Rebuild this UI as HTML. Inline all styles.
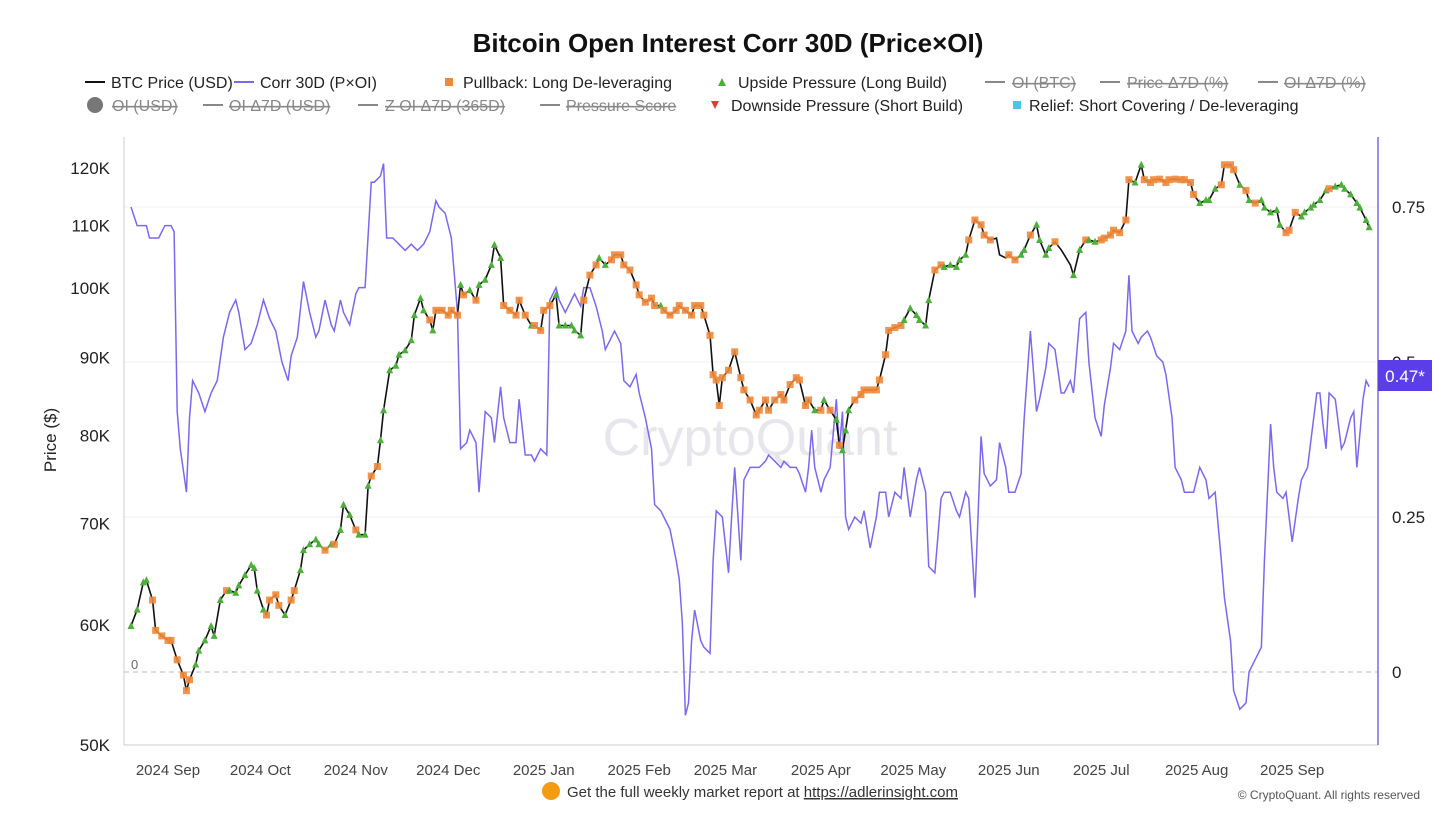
<!DOCTYPE html>
<html><head><meta charset="utf-8"><style>
html,body{margin:0;padding:0;background:#fff;}
svg{display:block;font-family:"Liberation Sans",Arial,sans-serif;}
</style></head><body>
<svg id="chart" width="1456" height="819" viewBox="0 0 1456 819" xmlns="http://www.w3.org/2000/svg">
<text x="728" y="52" text-anchor="middle" font-size="26" font-weight="bold" fill="#111">Bitcoin Open Interest Corr 30D (Price×OI)</text>
<g font-size="16" fill="#222">
 <g><line x1="85" y1="82" x2="105" y2="82" stroke="#111" stroke-width="2"/><text x="111" y="88">BTC Price (USD)</text></g>
 <g><line x1="234" y1="82" x2="254" y2="82" stroke="#7b68ee" stroke-width="2"/><text x="260" y="88">Corr 30D (P×OI)</text></g>
 <g><rect x="445" y="78" width="8" height="8" fill="#f0883a"/><text x="463" y="88">Pullback: Long De-leveraging</text></g>
 <g><polygon points="722,78 726,86 718,86" fill="#4caf3a"/><text x="738" y="88">Upside Pressure (Long Build)</text></g>
 <g fill="#888"><line x1="985" y1="82" x2="1005" y2="82" stroke="#888" stroke-width="2"/><text x="1012" y="88" text-decoration="line-through">OI (BTC)</text></g>
 <g fill="#888"><line x1="1100" y1="82" x2="1120" y2="82" stroke="#888" stroke-width="2"/><text x="1127" y="88" text-decoration="line-through">Price Δ7D (%)</text></g>
 <g fill="#888"><line x1="1258" y1="82" x2="1278" y2="82" stroke="#888" stroke-width="2"/><text x="1284" y="88" text-decoration="line-through">OI Δ7D (%)</text></g>
 <g fill="#888"><circle cx="95" cy="105" r="8" fill="#777"/><text x="112" y="111" text-decoration="line-through">OI (USD)</text></g>
 <g fill="#888"><line x1="203" y1="105" x2="223" y2="105" stroke="#888" stroke-width="2"/><text x="229" y="111" text-decoration="line-through">OI Δ7D (USD)</text></g>
 <g fill="#888"><line x1="358" y1="105" x2="378" y2="105" stroke="#888" stroke-width="2"/><text x="385" y="111" text-decoration="line-through">Z OI Δ7D (365D)</text></g>
 <g fill="#888"><line x1="540" y1="105" x2="560" y2="105" stroke="#888" stroke-width="2"/><text x="566" y="111" text-decoration="line-through">Pressure Score</text></g>
 <g><polygon points="711,101 719,101 715,109" fill="#e53935"/><text x="731" y="111">Downside Pressure (Short Build)</text></g>
 <g><rect x="1013" y="101" width="8" height="8" fill="#4fc3e8"/><text x="1029" y="111">Relief: Short Covering / De-leveraging</text></g>
</g>
<text x="750" y="455" text-anchor="middle" font-size="52" fill="#e6e6ec">CryptoQuant</text>
<g id="grid"></g>
<line x1="124" y1="137" x2="124" y2="745" stroke="#ccc"/>
<line x1="124" y1="745" x2="1378" y2="745" stroke="#ccc"/>
<line x1="1378" y1="137" x2="1378" y2="745" stroke="#7b68ee" stroke-width="1.5"/>
<text x="131" y="669" font-size="13" fill="#666">0</text>
<text transform="translate(56,440) rotate(-90)" text-anchor="middle" font-size="17" fill="#222">Price ($)</text>
<g id="ticks"></g>
<g id="series"></g>
<g><rect x="1378" y="360" width="54" height="31" fill="#5b3ee8"/><text x="1405" y="382" text-anchor="middle" font-size="17" fill="#fff">0.47*</text></g>
<g>
 <circle cx="551" cy="791" r="9" fill="#f39c12"/><text x="567" y="797" font-size="15" fill="#333">Get the full weekly market report at <tspan text-decoration="underline">https://adlerinsight.com</tspan></text>
 <text x="1420" y="799" text-anchor="end" font-size="12" fill="#555">© CryptoQuant. All rights reserved</text>
</g>
</svg>
<script>
const monthLabels=["2024 Sep","2024 Oct","2024 Nov","2024 Dec","2025 Jan","2025 Feb","2025 Mar","2025 Apr","2025 May","2025 Jun","2025 Jul","2025 Aug","2025 Sep"];
const monthDays=[12,42,73,103,134,165,193,224,254,285,315,346,377];
const priceTicks=[50,60,70,80,90,100,110,120];
const corrTicks=[0,0.25,0.5,0.75];
const corrDays=[0,2,5,6,8,9,11,13,14,15,16,18,19,20,22,24,26,28,30,32,34,35,37,39,41,43,45,47,49,51,52,54,56,58,60,61,63,65,66,68,69,71,73,74,76,78,79,81,82,83,85,87,89,91,93,95,97,99,100,102,104,106,107,109,110,112,113,115,117,118,120,121,123,125,126,128,130,131,133,135,136,138,139,141,143,144,146,147,149,151,153,154,156,157,159,160,162,164,165,167,169,170,172,173,175,177,178,179,180,181,182,183,185,186,188,189,190,192,194,195,196,198,199,201,204,206,207,209,211,212,214,216,217,219,220,221,222,224,225,227,229,230,231,232,233,235,237,238,240,242,243,245,246,248,250,251,253,255,256,258,259,261,263,264,266,268,269,271,272,274,276,277,279,281,282,284,285,287,289,290,292,294,295,297,298,300,302,303,305,306,308,310,311,313,315,316,318,319,321,323,324,325,327,328,330,331,333,335,336,338,339,341,342,344,345,347,349,350,352,354,355,357,358,360,362,363,365,367,368,370,371,372,374,375,377,379,380,382,383,385,386,387,388,389,391,393,394,396,397,398,400,401,402];
const corrVals=[0.75,0.72,0.72,0.70,0.70,0.70,0.72,0.72,0.71,0.42,0.36,0.29,0.41,0.47,0.45,0.42,0.45,0.47,0.54,0.58,0.60,0.58,0.52,0.53,0.56,0.60,0.57,0.55,0.50,0.47,0.51,0.54,0.63,0.58,0.54,0.55,0.60,0.56,0.55,0.60,0.58,0.56,0.61,0.62,0.62,0.79,0.79,0.80,0.82,0.70,0.70,0.69,0.68,0.69,0.68,0.69,0.71,0.76,0.75,0.74,0.70,0.58,0.36,0.37,0.39,0.37,0.29,0.42,0.41,0.37,0.46,0.41,0.37,0.37,0.44,0.35,0.35,0.34,0.36,0.35,0.60,0.62,0.60,0.58,0.60,0.61,0.59,0.62,0.62,0.59,0.55,0.52,0.54,0.55,0.53,0.47,0.46,0.48,0.45,0.41,0.36,0.27,0.26,0.25,0.23,0.18,0.15,0.08,-0.07,-0.05,0.05,0.10,0.05,0.04,0.03,0.18,0.26,0.25,0.16,0.25,0.33,0.18,0.31,0.33,0.33,0.34,0.35,0.34,0.33,0.34,0.33,0.33,0.32,0.29,0.33,0.39,0.33,0.29,0.31,0.33,0.44,0.36,0.42,0.25,0.23,0.25,0.24,0.26,0.20,0.25,0.29,0.29,0.25,0.29,0.28,0.33,0.25,0.31,0.33,0.29,0.17,0.16,0.28,0.29,0.29,0.26,0.25,0.29,0.28,0.12,0.38,0.32,0.30,0.31,0.37,0.33,0.29,0.29,0.32,0.41,0.55,0.42,0.44,0.49,0.53,0.52,0.45,0.45,0.47,0.45,0.57,0.58,0.50,0.41,0.38,0.43,0.49,0.53,0.52,0.55,0.64,0.55,0.53,0.54,0.55,0.54,0.51,0.50,0.48,0.41,0.33,0.31,0.29,0.29,0.29,0.33,0.31,0.28,0.29,0.18,0.12,0.05,-0.03,-0.06,-0.05,0.00,0.02,0.04,0.18,0.40,0.33,0.29,0.28,0.29,0.21,0.28,0.31,0.33,0.37,0.45,0.45,0.40,0.36,0.45,0.44,0.36,0.37,0.41,0.42,0.33,0.44,0.47,0.46];
const priceDays=[0,2,4,5,7,8,10,12,13,15,17,18,19,21,22,24,26,27,29,31,32,34,35,37,39,40,41,43,44,45,47,48,50,52,53,55,56,58,60,61,63,65,66,68,69,71,73,74,76,77,78,80,81,82,84,86,87,89,91,92,94,95,97,98,99,101,103,104,106,107,108,110,112,113,115,117,118,120,121,123,125,126,128,130,131,133,134,136,138,139,141,143,144,146,147,149,151,152,154,156,157,159,160,162,164,165,167,169,170,172,173,175,177,178,180,182,183,185,186,188,189,190,191,192,194,196,198,199,201,203,204,206,207,209,211,212,214,216,217,219,220,222,224,225,227,229,230,231,232,233,235,237,238,240,242,243,245,246,248,250,251,253,255,256,258,259,261,263,264,266,268,269,271,272,274,276,277,279,281,282,284,285,287,289,290,292,294,295,297,298,300,302,303,305,306,308,310,311,313,315,316,318,319,321,323,324,326,328,329,331,332,334,336,337,339,341,342,344,345,347,349,350,352,354,355,357,358,360,362,363,365,367,368,370,372,373,375,376,378,380,381,383,384,386,388,389,391,393,394,396,398,399,401,402];
const priceVals=[59.9,61.4,64.0,64.2,62.3,59.5,59.0,58.6,58.6,56.9,55.6,54.3,55.2,56.5,57.7,58.6,59.9,59.0,62.3,63.2,63.2,63.0,63.7,64.7,65.7,65.4,63.2,61.4,60.9,62.3,62.8,61.8,60.9,62.3,63.2,65.2,67.2,67.8,68.3,67.8,67.2,67.8,67.8,69.3,72.0,70.9,69.3,68.8,68.8,74.1,75.2,76.3,79.4,83.1,88.3,88.9,90.4,91.0,92.4,96.0,98.5,96.7,95.3,93.8,96.7,96.7,96.0,96.7,96.0,100.5,99.0,99.7,98.2,100.5,101.3,103.6,106.8,104.7,97.4,96.7,96.0,98.2,96.0,94.5,94.5,93.8,96.7,97.4,99.0,94.5,94.5,94.5,93.8,93.1,98.2,102.0,103.6,104.7,103.6,104.4,105.2,105.2,103.6,102.8,100.5,99.0,97.9,98.5,97.4,97.4,96.7,96.0,96.7,97.4,96.7,96.0,97.4,97.4,96.0,93.1,87.7,87.0,83.7,87.3,88.3,90.8,87.3,85.7,84.4,82.5,83.1,84.4,83.1,84.4,85.1,84.4,86.4,87.3,87.0,83.7,84.4,83.1,83.1,84.4,83.1,81.9,78.8,78.2,80.6,83.1,84.4,85.1,85.7,85.7,85.7,87.0,90.4,93.8,94.2,94.5,95.3,97.0,96.0,95.3,94.5,98.2,102.8,103.6,103.3,103.6,103.3,104.4,105.2,107.6,110.9,110.1,108.4,107.6,107.9,105.2,104.7,105.2,104.4,105.2,106.0,108.4,110.1,107.6,105.2,106.3,107.3,106.0,105.2,103.6,102.0,106.0,107.6,107.6,107.3,107.6,107.9,108.4,109.2,108.8,110.9,117.9,117.4,120.6,117.9,117.4,117.9,118.0,117.4,117.9,118.0,117.9,117.9,117.4,115.3,113.8,114.3,114.3,116.3,117.0,120.6,120.6,119.7,117.0,116.0,114.3,113.8,114.3,113.0,112.2,112.6,110.1,108.8,109.2,112.2,111.5,112.2,113.0,113.5,114.3,116.0,116.3,116.7,117.0,116.3,115.3,113.8,113.0,110.9,109.7];
const priceSignal="ggggoooooooooggggggoggggggggoooogoogggggogogggogggooggggggggggogooooogogogggggooooogooooggggggoooggoooooooooogooooooooooooooooooooooooooooooogogogogggooooooooooggggggoogggggooooo---ooggoggggo---ggoggoooooooggoooooooooooggggoooogogogggggoooggggggogggggggggogogggggogoooooo--------gogoooogggggoooogoooo";
const NS="http://www.w3.org/2000/svg";
const xDay=d=>131+d*3.08;
const yPrice=p=>745-659*Math.log(p/50);
const yCorr=c=>672-620*c;
function mk(tag,attrs,parent){const e=document.createElementNS(NS,tag);for(const k in attrs)e.setAttribute(k,attrs[k]);parent.appendChild(e);return e;}
const grid=document.getElementById('grid'),ticks=document.getElementById('ticks'),series=document.getElementById('series');
corrTicks.forEach(c=>{
 const g=mk('line',{x1:124,x2:1378,y1:yCorr(c),y2:yCorr(c),stroke:c===0?'#bbb':'#f0f0f0','stroke-dasharray':c===0?'5,4':'none'},grid);
 
 
 const t=mk('text',{x:1392,y:yCorr(c)+6,'font-size':17,fill:'#222'},ticks);t.textContent=String(c);
 
 
});
priceTicks.forEach(p=>{
 const t=mk('text',{x:110,y:yPrice(p)+6,'font-size':17,fill:'#222','text-anchor':'end'},ticks);t.textContent=p+'K';
 
 
});
monthDays.forEach((d,i)=>{
 const t=mk('text',{x:xDay(d),y:775,'font-size':15,fill:'#444','text-anchor':'middle'},ticks);t.textContent=monthLabels[i];
 
 
});
const cl=mk('polyline',{points:corrDays.map((d,i)=>xDay(d)+','+yCorr(corrVals[i])).join(' '),fill:'none',stroke:'#7b68ee','stroke-width':1.5},series);


const pl=mk('polyline',{points:priceDays.map((d,i)=>xDay(d)+','+yPrice(priceVals[i])).join(' '),fill:'none',stroke:'#111','stroke-width':1.6},series);


priceDays.forEach((d,i)=>{
 const s=priceSignal[i],x=xDay(d),y=yPrice(priceVals[i]);
 if(s==='o'){const r=mk('rect',{x:x-3.5,y:y-3.5,width:7,height:7,fill:'#f0883a','fill-opacity':0.9},series);
  
  }
 else if(s==='g'){const r=mk('polygon',{points:`${x},${y-4} ${x+3.5},${y+3} ${x-3.5},${y+3}`,fill:'#4caf3a'},series);
  
  }
});
</script>
</body></html>
